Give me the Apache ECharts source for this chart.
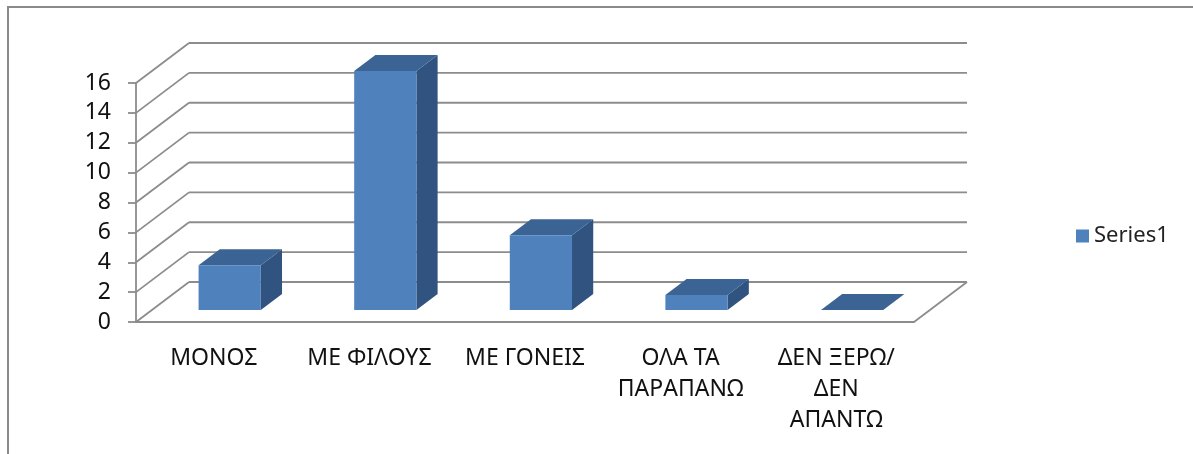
<!DOCTYPE html>
<html>
<head>
<meta charset="utf-8">
<script src="https://cdn.jsdelivr.net/npm/echarts@6/dist/echarts.min.js"></script>
<style>
  * { margin: 0; padding: 0; }
  html, body { background: #fff; }
  #chart { width: 1193px; height: 454px; }
</style>
</head>
<body>
<div id="chart"></div>
<script>
// data
var categories = ['ΜΟΝΟΣ', 'ΜΕ ΦΙΛΟΥΣ', 'ΜΕ ΓΟΝΕΙΣ', 'ΟΛΑ ΤΑ\nΠΑΡΑΠΑΝΩ', 'ΔΕΝ ΞΕΡΩ/\nΔΕΝ\nΑΠΑΝΤΩ'];
var series1 = [3, 16, 5, 1, 0];
var yTicks = [0, 2, 4, 6, 8, 10, 12, 14, 16];

// fake 3d depth (pixels for the full floor depth)
var DX = 53, DY = -40;
var gridColor = '#8c8c8c';

var chart = echarts.init(document.getElementById('chart'));

function wallItem(params, api) {
  var cs = params.coordSys;
  var p = api.coord([0, api.value(1)]);
  var y = p[1];
  var x0 = cs.x, x1 = cs.x + cs.width;
  var style = { stroke: gridColor, lineWidth: 1.8 };
  var kids = [
    { type: 'line', shape: { x1: x0, y1: y, x2: x0 + DX, y2: y + DY }, style: style },
    { type: 'line', shape: { x1: x0 + DX, y1: y + DY, x2: x1 + DX, y2: y + DY }, style: style }
  ];
  if (api.value(1) === 0) {
    kids.push({ type: 'line', shape: { x1: x1, y1: y, x2: x1 + DX, y2: y + DY }, style: style });
  }
  return { type: 'group', children: kids };
}

function barItem(params, api) {
  var i = api.value(0);
  var base = api.coord([i, 0]);
  var top = api.coord([i, api.value(1)]);
  var bw = api.size([1, 0])[0];
  var w = bw * 0.4;
  var f = 0.3, d = 0.4;
  var fx = base[0] + f * DX - w / 2;
  var by = base[1] + f * DY;
  var ty = top[1] + f * DY;
  var ddx = d * DX, ddy = d * DY;
  return {
    type: 'group',
    children: [
      { type: 'polygon', shape: { points: [[fx + w, ty], [fx + w + ddx, ty + ddy], [fx + w + ddx, by + ddy], [fx + w, by]] },
        style: { fill: '#30537f' } },
      { type: 'polygon', shape: { points: [[fx, ty], [fx + w, ty], [fx + w + ddx, ty + ddy], [fx + ddx, ty + ddy]] },
        style: { fill: '#3b6393' } },
      { type: 'rect', shape: { x: fx, y: ty, width: w, height: by - ty },
        style: { fill: '#4f81bd' } }
    ]
  };
}

chart.setOption({
  animation: false,
  textStyle: { fontFamily: 'Noto Sans' },
  graphic: [{
    type: 'rect',
    shape: { x: 8, y: 7, width: 1400, height: 700 },
    style: { fill: 'none', stroke: '#8a8a8a', lineWidth: 2 }
  }],
  grid: { left: 136, top: 83, width: 778, height: 239 },
  legend: {
    data: [{ name: 'Series1', icon: 'rect' }],
    left: 1071, top: 220,
    itemWidth: 13, itemHeight: 13, itemGap: 8,
    textStyle: { fontSize: 22, color: '#222', fontFamily: 'Noto Sans' }
  },
  xAxis: {
    type: 'category',
    data: categories,
    axisLine: { lineStyle: { color: gridColor, width: 1.8 } },
    axisTick: { length: 8, lineStyle: { color: gridColor, width: 1.8 } },
    axisLabel: { color: '#111', fontSize: 23, lineHeight: 31, margin: 21, interval: 0 }
  },
  yAxis: {
    type: 'value',
    min: 0, max: 16, interval: 2,
    axisLine: { show: true, lineStyle: { color: gridColor, width: 1.8 } },
    axisTick: { show: true, length: 8, lineStyle: { color: gridColor, width: 1.8 } },
    splitLine: { show: false },
    axisLabel: { color: '#111', fontSize: 23, margin: 25 }
  },
  series: [
    {
      type: 'custom',
      name: 'walls',
      renderItem: wallItem,
      data: yTicks.map(function (v) { return [0, v]; }),
      z: 1,
      silent: true
    },
    {
      type: 'custom',
      name: 'Series1',
      renderItem: barItem,
      itemStyle: { color: '#4f81bd' },
      data: series1.map(function (v, i) { return [i, v]; }),
      z: 2
    }
  ]
});
</script>
</body>
</html>
